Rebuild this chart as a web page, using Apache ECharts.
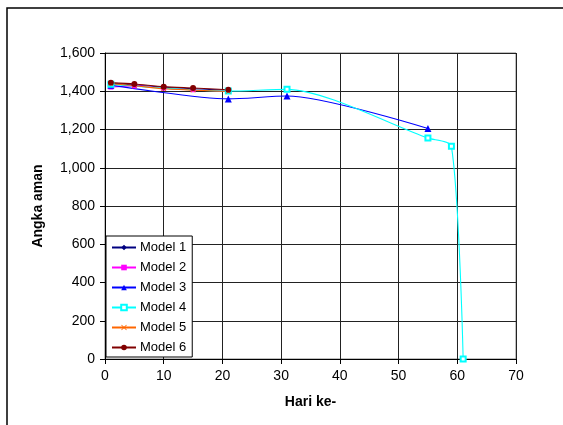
<!DOCTYPE html>
<html>
<head>
<meta charset="utf-8">
<script src="https://cdn.jsdelivr.net/npm/echarts@6/dist/echarts.min.js"></script>
<style>
  html, body { margin: 0; padding: 0; background: #fff; }
  #chart { width: 563px; height: 425px; }
</style>
</head>
<body>
<div id="chart"></div>
<script>
// data: [hari, angka aman]
const model1 = [[1, 1440], [5, 1433], [10, 1421], [15, 1413], [21, 1405]]
const model2 = [[1, 1422], [5, 1428], [10, 1416], [15, 1408], [21, 1400]]
const model3 = [[1, 1432], [21, 1360], [31, 1375], [55, 1205]]
const model4 = [[1, 1436], [21, 1401], [31, 1410], [55, 1155], [59, 1112], [61, 0]]
const model5 = [[1, 1440], [5, 1429], [10, 1413], [15, 1406], [21, 1399]]
const model6 = [[1, 1445], [5, 1438], [10, 1424], [15, 1417], [21, 1408]]
const seriesNames = ['Model 1', 'Model 2', 'Model 3', 'Model 4', 'Model 5', 'Model 6']
const seriesColors = ['#000080', '#ff00ff', '#0000ff', '#00ffff', '#ff6600', '#800000']

const font = 'Arial, "Liberation Sans", sans-serif'
const xMark = 'path://M0,1L1,0L5,4L9,0L10,1L6,5L10,9L9,10L5,6L1,10L0,9L4,5Z'

function line(i, data, symbol, size, extra) {
  return Object.assign({
    name: seriesNames[i],
    type: 'line',
    data: data,
    smooth: 0.25,
    symbol: symbol,
    symbolSize: size,
    showAllSymbol: true,
    color: seriesColors[i],
    lineStyle: { width: 1.1, color: seriesColors[i] },
    itemStyle: { color: seriesColors[i] },
    emphasis: { disabled: true }
  }, extra || {})
}

const chart = echarts.init(document.getElementById('chart'))
chart.setOption({
  animation: false,
  backgroundColor: '#fff',
  textStyle: { fontFamily: font },
  graphic: [{
    type: 'rect',
    shape: { x: 7, y: 8, width: 600, height: 500 },
    style: { fill: 'none', stroke: '#000', lineWidth: 1.5 },
    z: -1
  }],
  grid: { left: 105, right: 47, top: 53, bottom: 66, show: true, borderColor: '#808080', borderWidth: 1 },
  legend: {
    orient: 'vertical',
    left: 106,
    top: 236,
    padding: [5, 6, 3, 5],
    itemGap: 7,
    itemWidth: 24,
    itemHeight: 7,
    borderColor: '#000',
    borderWidth: 1,
    backgroundColor: '#fff',
    textStyle: { fontSize: 13, color: '#000', fontFamily: font, padding: [0, 0, 0, -1] },
    data: seriesNames
  },
  xAxis: {
    type: 'value',
    min: 0, max: 70, interval: 10,
    name: 'Hari ke-',
    nameLocation: 'middle',
    nameGap: 36,
    nameTextStyle: { fontSize: 14, fontWeight: 'bold', color: '#000' },
    axisLine: { lineStyle: { color: '#000' } },
    axisTick: { show: true, length: 5, lineStyle: { color: '#000' } },
    axisLabel: { fontSize: 14, color: '#000', margin: 10 },
    splitLine: { lineStyle: { color: '#222', width: 1 } }
  },
  yAxis: {
    type: 'value',
    min: 0, max: 1600, interval: 200,
    name: 'Angka aman',
    nameLocation: 'middle',
    nameGap: 60,
    nameTextStyle: { fontSize: 14, fontWeight: 'bold', color: '#000' },
    axisLine: { show: true, lineStyle: { color: '#000' } },
    axisTick: { show: true, length: 5, lineStyle: { color: '#000' } },
    axisLabel: {
      fontSize: 14, color: '#000', margin: 10,
      formatter: v => v.toLocaleString('en-US')
    },
    splitLine: { lineStyle: { color: '#222', width: 1 } }
  },
  series: [
    line(0, model1, 'diamond', 6),
    line(1, model2, 'rect', 5),
    line(2, model3, 'triangle', 7),
    line(3, model4, 'emptyRect', 5, { itemStyle: { color: '#00ffff', borderColor: '#00ccff', borderWidth: 1 } }),
    line(4, model5, xMark, 5),
    line(5, model6, 'circle', 6)
  ]
})
</script>
</body>
</html>
